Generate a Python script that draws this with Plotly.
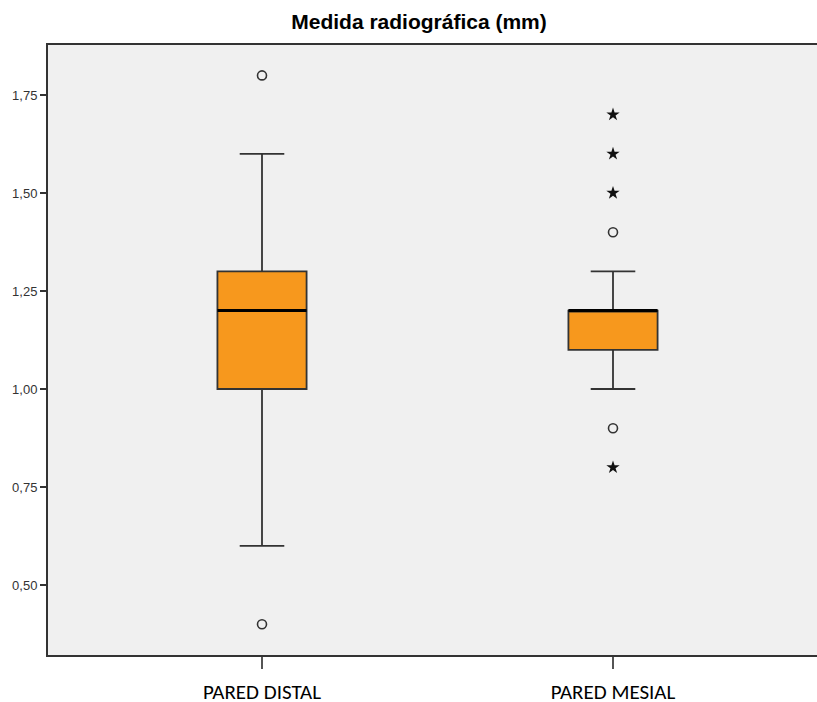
import plotly.graph_objects as go

# ---- data ----
categories = ["PARED DISTAL", "PARED MESIAL"]
q1 = [1.00, 1.10]
median = [1.20, 1.20]
q3 = [1.30, 1.20]
lower_whisker = [0.60, 1.00]
upper_whisker = [1.60, 1.30]
# outliers (circles) and extreme values (stars)
outliers_circle = [[0.40, 1.80], [0.90, 1.40]]
outliers_star = [[], [0.80, 1.50, 1.60, 1.70]]
y_ticks = [0.50, 0.75, 1.00, 1.25, 1.50, 1.75]

BOX_W = 0.254
FILL = "#F7981D"
LINE = "#333333"

xpos = list(range(len(categories)))

fig = go.Figure()
for i, cat in enumerate(categories):
    fig.add_trace(go.Box(
        x=[xpos[i]], q1=[q1[i]], median=[median[i]], q3=[q3[i]],
        lowerfence=[lower_whisker[i]], upperfence=[upper_whisker[i]],
        width=BOX_W, whiskerwidth=0.5,
        fillcolor=FILL, line=dict(color=LINE, width=1.8),
        boxpoints=False, hoverinfo="skip", name=cat,
    ))
    # thick median line
    fig.add_trace(go.Scatter(
        x=[xpos[i] - BOX_W / 2, xpos[i] + BOX_W / 2], y=[median[i], median[i]],
        mode="lines", line=dict(color="black", width=3), hoverinfo="skip",
    ))
    if outliers_circle[i]:
        fig.add_trace(go.Scatter(
            x=[xpos[i]] * len(outliers_circle[i]), y=outliers_circle[i],
            mode="markers",
            marker=dict(symbol="circle-open", size=9, color="#333333", line=dict(width=1.6)),
            hoverinfo="skip",
        ))
    if outliers_star[i]:
        fig.add_trace(go.Scatter(
            x=[xpos[i]] * len(outliers_star[i]), y=outliers_star[i],
            mode="markers",
            marker=dict(symbol="star", size=10, color="#111111", line=dict(width=0)),
            hoverinfo="skip",
        ))

fig.update_layout(
    width=817, height=702,
    margin=dict(l=48, r=0, t=45, b=47),
    paper_bgcolor="white", plot_bgcolor="#F0F0F0",
    showlegend=False, hovermode=False,
    separators=",.",
    title=dict(
        text="<b>Medida radiográfica (mm)</b>",
        font=dict(family="Liberation Sans Narrow, Liberation Sans, Arial", size=21, color="black"),
        x=(419 - 48) / 769, xref="paper", xanchor="center",
        y=1 - 22 / 702, yref="container", yanchor="middle",
        automargin=False,
    ),
    xaxis=dict(
        range=[-0.6097, 1.5812], tickmode="array", tickvals=xpos, ticktext=categories,
        showgrid=False, zeroline=False, automargin=False,
        showline=True, linecolor=LINE, linewidth=2, mirror=True,
        ticks="outside", ticklen=12, tickwidth=2, tickcolor="#555555",
        ticklabelstandoff=5,
        tickfont=dict(family="Carlito, Liberation Sans, Arial", size=21, color="black"),
    ),
    yaxis=dict(
        range=[0.3214, 1.8776], tickmode="array", tickvals=y_ticks, tickformat=".2f",
        showgrid=False, zeroline=False, automargin=False,
        showline=True, linecolor=LINE, linewidth=2,
        ticks="outside", ticklen=6, tickwidth=2, tickcolor="#333333",
        tickfont=dict(family="Liberation Sans, Arial", size=13, color="#333333"),
    ),
)

# remove the page's default 8px body margin so the figure fills the window exactly
fig.write_html(
    "out.html",
    config={"displayModeBar": False, "staticPlot": True},
    post_script="document.body.style.margin='0';document.body.style.overflow='hidden';",
)
